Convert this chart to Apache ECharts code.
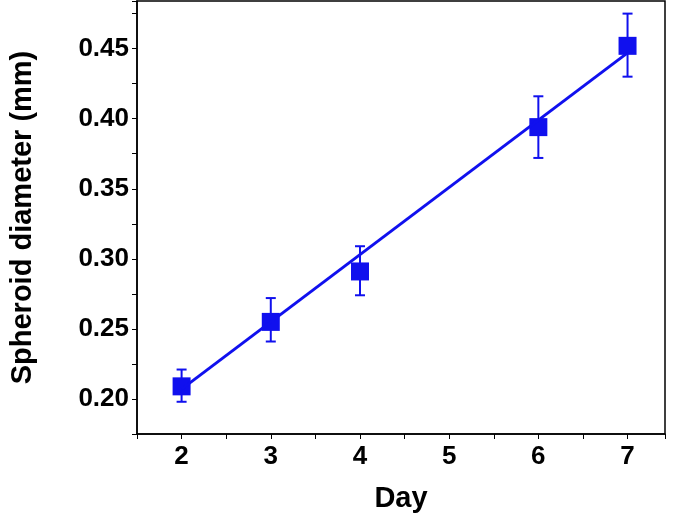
<!DOCTYPE html>
<html><head><meta charset="utf-8">
<script src="https://cdn.jsdelivr.net/npm/echarts@6/dist/echarts.min.js"></script>
<style>html,body{margin:0;padding:0;background:#fff}</style>
</head><body>
<div id="main" style="width:675px;height:518px"></div>
<script>
var days = [2, 3, 4, 6, 7];
var diameters = [0.209, 0.255, 0.291, 0.394, 0.452];
var errLow = [0.198, 0.241, 0.274, 0.372, 0.430];
var errHigh = [0.221, 0.272, 0.309, 0.416, 0.475];
var fitDays = [2, 7];
var fitValues = [0.207, 0.447];

var chart = echarts.init(document.getElementById('main'));
var blue = '#1010ee';
var font = 'Arial, Liberation Sans';
var option = {
    animation: false,
    grid: { left: 131, right: 10, top: 1, bottom: 83, show: true, borderColor: '#000', borderWidth: 1.5 },
    xAxis: {
        type: 'value', min: 1.5, max: 7.42, interval: 0.5,
        axisLine: { show: true, onZero: false, lineStyle: { color: '#000', width: 1.5 } },
        axisTick: { show: true, length: 5, lineStyle: { color: '#000' } },
        splitLine: { show: false },
        axisLabel: {
            color: '#000', fontSize: 26, fontWeight: 'bold', fontFamily: font, margin: 10,
            formatter: function (v) { return Math.abs(v - Math.round(v)) < 1e-6 ? String(Math.round(v)) : ''; }
        },
        name: 'Day', nameLocation: 'middle', nameGap: 50,
        nameTextStyle: { color: '#000', fontSize: 29, fontWeight: 'bold', fontFamily: font }
    },
    yAxis: {
        type: 'value', min: 0.175, max: 0.484, interval: 0.025,
        axisLine: { show: true, onZero: false, lineStyle: { color: '#000', width: 1.5 } },
        axisTick: { show: true, length: 5, lineStyle: { color: '#000' } },
        splitLine: { show: false },
        axisLabel: {
            color: '#000', fontSize: 26, fontWeight: 'bold', fontFamily: font, margin: 8,
            formatter: function (v) { return Math.abs(v * 20 - Math.round(v * 20)) < 1e-6 ? v.toFixed(2) : ''; }
        },
        name: 'Spheroid diameter (mm)', nameLocation: 'middle', nameGap: 100,
        nameTextStyle: { color: '#000', fontSize: 29, fontWeight: 'bold', fontFamily: font }
    },
    series: [
        {
            type: 'line', data: fitDays.map(function (d, i) { return [d, fitValues[i]]; }),
            symbol: 'none', lineStyle: { color: blue, width: 3 }
        },
        {
            type: 'custom',
            data: days.map(function (d, i) { return [d, errLow[i], errHigh[i]]; }),
            renderItem: function (params, api) {
                var lo = api.coord([api.value(0), api.value(1)]);
                var hi = api.coord([api.value(0), api.value(2)]);
                var w = 5;
                var st = { stroke: blue, lineWidth: 2 };
                return { type: 'group', children: [
                    { type: 'line', shape: { x1: lo[0], y1: lo[1], x2: hi[0], y2: hi[1] }, style: st },
                    { type: 'line', shape: { x1: lo[0] - w, y1: lo[1], x2: lo[0] + w, y2: lo[1] }, style: st },
                    { type: 'line', shape: { x1: hi[0] - w, y1: hi[1], x2: hi[0] + w, y2: hi[1] }, style: st }
                ] };
            }
        },
        {
            type: 'scatter', data: days.map(function (d, i) { return [d, diameters[i]]; }),
            symbol: 'rect', symbolSize: 18, itemStyle: { color: blue, opacity: 1 }
        }
    ]
};
chart.setOption(option);
</script>
</body></html>
